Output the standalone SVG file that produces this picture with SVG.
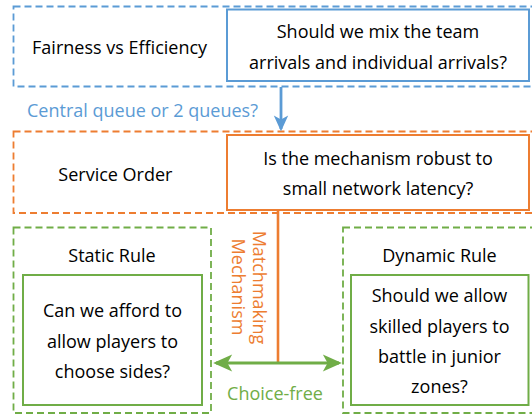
<svg xmlns="http://www.w3.org/2000/svg" width="532" height="416" viewBox="0 0 532 416">
<style>
text{font-family:"Open Sans","Noto Sans","Liberation Sans",sans-serif;font-size:18px;fill:#000}
.c{text-anchor:middle}
.dash{fill:none;stroke-width:1.8;stroke-dasharray:7 4}
.solid{fill:#fff;stroke-width:2}
.blue{stroke:#5B9BD5}
.orange{stroke:#ED7D31}
.green{stroke:#70AD47}
.tb{fill:#5B9BD5}
.to{fill:#ED7D31}
.tg{fill:#70AD47}
</style>
<defs>
<marker id="ab" viewBox="0 0 20 20" refX="17" refY="10" markerWidth="16" markerHeight="18" markerUnits="userSpaceOnUse" orient="auto-start-reverse">
<path d="M20,10 L0,1 L5,10 L0,19 Z" fill="#5B9BD5"/>
</marker>
<marker id="ag" viewBox="0 0 20 20" refX="17" refY="10" markerWidth="20" markerHeight="19" markerUnits="userSpaceOnUse" orient="auto-start-reverse">
<path d="M20,10 L0,1 L5,10 L0,19 Z" fill="#70AD47"/>
</marker>
</defs>

<g id="fairness">
<rect class="dash blue" x="13.5" y="6.5" width="521" height="80"/>
<text class="c" x="119.6" y="53.6">Fairness vs Efficiency</text>
</g>
<g id="q1">
<rect class="solid blue" x="227" y="9.5" width="302" height="71.5"/>
<text class="c" x="378" y="38">Should we mix the team</text>
<text class="c" x="378" y="68.8">arrivals and individual arrivals?</text>
</g>

<g id="service">
<rect class="dash orange" x="13.5" y="131.5" width="521" height="81.5"/>
<text class="c" x="115.4" y="181">Service Order</text>
</g>
<g id="q2">
<rect class="solid orange" x="227" y="135" width="302" height="75"/>
<text class="c" x="378" y="164.8">Is the mechanism robust to</text>
<text class="c" x="378" y="195.3">small network latency?</text>
</g>

<g id="static">
<rect class="dash green" x="13.5" y="227.5" width="197.5" height="185.5"/>
<text class="c" x="112" y="262">Static Rule</text>
</g>
<g id="q3">
<rect class="solid green" x="23" y="275" width="179" height="130"/>
<text class="c" x="112.5" y="316.7">Can we afford to</text>
<text class="c" x="112.5" y="347.7">allow players to</text>
<text class="c" x="112.5" y="378">choose sides?</text>
</g>

<g id="dynamic">
<rect class="dash green" x="343" y="227.5" width="191" height="185.5"/>
<text class="c" x="439.5" y="262">Dynamic Rule</text>
</g>
<g id="q4">
<rect class="solid green" x="351" y="275" width="177.5" height="130"/>
<text class="c" x="439.5" y="301.7">Should we allow</text>
<text class="c" x="439.5" y="332.7">skilled players to</text>
<text class="c" x="439.5" y="363.3">battle in junior</text>
<text class="c" x="439.5" y="393.3">zones?</text>
</g>

<g id="connectors">
<line x1="281" y1="87" x2="281" y2="129" stroke="#5B9BD5" stroke-width="2.8" marker-end="url(#ab)"/>
<text class="tb" x="27" y="117">Central queue or 2 queues?</text>
<line x1="278" y1="210" x2="278" y2="363" stroke="#ED7D31" stroke-width="2.6"/>
<text class="c to" transform="translate(253,287.5) rotate(90)">Matchmaking</text>
<text class="c to" transform="translate(232,287) rotate(90)">Mechanism</text>
<line x1="216" y1="363" x2="339" y2="363" stroke="#70AD47" stroke-width="3" marker-start="url(#ag)" marker-end="url(#ag)"/>
<text class="c tg" x="275" y="400">Choice-free</text>
</g>
</svg>
